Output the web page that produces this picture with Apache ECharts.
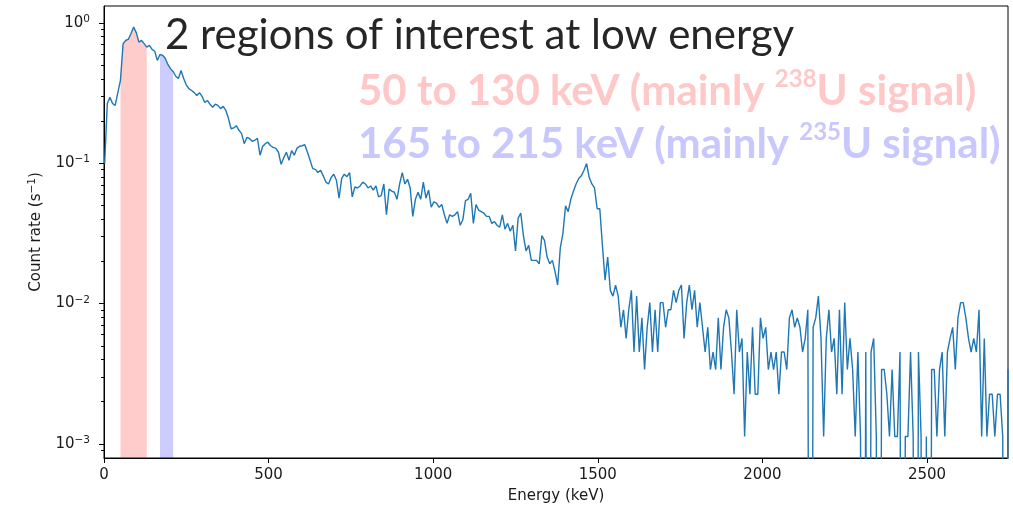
<!DOCTYPE html>
<html>
<head>
<meta charset="utf-8">
<script src="https://cdn.jsdelivr.net/npm/echarts@6/dist/echarts.min.js"></script>
<style>
  html, body { margin: 0; padding: 0; background: #ffffff; }
  #chart { width: 1013px; height: 510px; }
</style>
</head>
<body>
<div id="chart"></div>
<script>
// Spectrum: counts per 8 keV channel, first channel centred at 2 keV
const BIN_START_KEV = 2;
const BIN_WIDTH_KEV = 8;
const LIVE_TIME_S = 885;

const counts = [
  88, 236, 261, 236, 229, 282, 345, 630, 664, 677,
  745, 826, 755, 646, 664, 630, 595, 612, 573, 556,
  479, 527, 520, 495, 448, 418, 399, 369, 356, 406,
  356, 319, 301, 292, 282, 269, 282, 265, 240, 248,
  233, 222, 233, 229, 217, 225, 211, 185, 156, 158,
  164, 152, 144, 122, 135, 133, 127, 129, 133, 101,
  117, 122, 125, 118, 115, 113, 106, 87, 97, 106,
  93, 109, 101, 113, 117, 118, 120, 106, 93, 81,
  80, 76, 79, 72, 65, 63, 70, 74, 67, 50,
  69, 74, 71, 76, 51, 60, 59, 61, 65, 63,
  59, 61, 57, 61, 51, 52, 63, 38, 58, 56,
  55, 49, 63, 76, 63, 68, 59, 37, 49, 55,
  49, 65, 50, 57, 43, 47, 46, 43, 45, 38,
  33, 38, 37, 38, 40, 32, 35, 48, 49, 54,
  33, 45, 41, 40, 39, 37, 37, 33, 34, 32,
  31, 38, 30, 33, 29, 32, 21, 36, 39, 27,
  21, 23, 18, 18, 18, 17, 27, 25, 19, 17,
  18, 15, 12, 22, 28, 44, 40, 49, 56, 63,
  69, 72, 79, 88, 70, 63, 59, 42, 42, 23,
  13, 19, 11, 10, 12, 10, 6, 8, 5, 8,
  11, 4, 10, 4, 7, 3, 6, 9, 4, 8,
  4, 9, 9, 6, 8, 8, 11, 9, 11, 12,
  5, 9, 12, 8, 11, 6, 9, 6, 4, 6,
  3, 4, 3, 7, 3, 6, 8, 7, 4, 2,
  8, 4, 5, 1, 4, 2, 6, 2, 2, 7,
  5, 6, 3, 4, 3, 4, 2, 4, 4, 3,
  7, 8, 6, 7, 6, 4, 5, 8, 0, 6,
  7, 10, 5, 1, 5, 8, 4, 5, 2, 8,
  2, 9, 3, 5, 3, 1, 4, 1, 0, 4,
  0, 4, 5, 1, 0, 3, 3, 2, 1, 3,
  1, 1, 4, 0, 1, 1, 4, 1, 0, 4,
  1, 0, 1, 0, 3, 3, 1, 3, 4, 1,
  4, 5, 6, 3, 7, 9, 9, 7, 5, 4,
  5, 4, 8, 1, 5, 1, 2, 2, 1, 2,
  2, 1, 0, 3
];

// Shaded regions of interest (keV)
const regionNames = ['238U', '235U'];
const regionFrom = [50, 165];
const regionTo = [130, 215];
const regionColors = ['rgba(255, 0, 0, 0.2)', 'rgba(0, 0, 255, 0.2)'];

// Axis ticks
const xTickValues = [0, 500, 1000, 1500, 2000, 2500];
const yMajorTicks = [0.001, 0.01, 0.1, 1];
const yTickExponents = ['\u22123', '\u22122', '\u22121', '0'];
const yMinorTicks = [
  0.0009,
  0.002, 0.003, 0.004, 0.005, 0.006, 0.007, 0.008, 0.009,
  0.02, 0.03, 0.04, 0.05, 0.06, 0.07, 0.08, 0.09,
  0.2, 0.3, 0.4, 0.5, 0.6, 0.7, 0.8, 0.9
];

const X_MAX = 2746;
const Y_MIN = 0.000794;
const Y_MAX = 1.32;
// log axis cannot show empty channels; send them below the visible range
const EMPTY_FLOOR = 1e-9;

const spectrum = counts.map(function (c, k) {
  const e = BIN_START_KEV + k * BIN_WIDTH_KEV;
  const rate = c / LIVE_TIME_S;
  return [e, rate > 0 ? rate : EMPTY_FLOOR];
});

const INK = '#1a1a1a';
const mathRich = {
  b: { fontFamily: 'DejaVu Sans', fontSize: 15, color: INK, lineHeight: 18, verticalAlign: 'middle' },
  s: { fontFamily: 'DejaVu Sans', fontSize: 10.5, color: INK, lineHeight: 10, verticalAlign: 'top' }
};

const bandSeries = regionFrom.map(function (from, i) {
  return {
    name: regionNames[i],
    type: 'line',
    data: spectrum.filter(function (p) { return p[0] >= from && p[0] <= regionTo[i]; }),
    showSymbol: false,
    silent: true,
    lineStyle: { width: 0, opacity: 0 },
    areaStyle: { color: regionColors[i], origin: 'start', opacity: 1 },
    z: 1
  };
});

const chart = echarts.init(document.getElementById('chart'), null, { renderer: 'canvas' });

chart.setOption({
  animation: false,
  backgroundColor: '#ffffff',
  grid: {
    left: 104, right: 5, top: 6, bottom: 52,
    show: true, borderColor: '#000000', borderWidth: 1, backgroundColor: 'transparent'
  },
  xAxis: {
    type: 'value',
    min: 0, max: X_MAX,
    name: 'Energy (keV)',
    nameLocation: 'middle',
    nameGap: 31,
    nameTextStyle: { fontFamily: 'DejaVu Sans', fontSize: 15, color: INK },
    axisLine: { show: true, lineStyle: { color: '#000000', width: 1 } },
    axisTick: { show: true, length: 5, lineStyle: { color: '#000000' }, customValues: xTickValues },
    axisLabel: {
      margin: 10,
      customValues: xTickValues,
      fontFamily: 'DejaVu Sans', fontSize: 15, color: INK,
      formatter: function (v) { return String(v); }
    },
    splitLine: { show: false }
  },
  yAxis: [
    {
      type: 'log', logBase: 10,
      min: Y_MIN, max: Y_MAX,
      name: '{b|Count rate (s}{s|\u22121}{b|)}',
      nameLocation: 'middle',
      nameGap: 59,
      nameRotate: 90,
      nameTextStyle: { fontFamily: 'DejaVu Sans', fontSize: 15, color: INK, rich: mathRich },
      axisLine: { show: true, lineStyle: { color: '#000000', width: 1 } },
      axisTick: { show: true, length: 5, lineStyle: { color: '#000000' }, customValues: yMajorTicks },
      axisLabel: {
        margin: 14,
        customValues: yMajorTicks,
        rich: mathRich,
        formatter: function (v) {
          const p = Math.round(Math.log10(v));
          return '{b|10}{s|' + yTickExponents[p + 3] + '}';
        }
      },
      splitLine: { show: false }
    },
    {
      // minor ticks of the same log scale
      type: 'log', logBase: 10,
      min: Y_MIN, max: Y_MAX,
      position: 'left',
      axisLine: { show: false },
      axisTick: { show: true, length: 3, lineStyle: { color: '#000000' }, customValues: yMinorTicks },
      axisLabel: { show: false },
      splitLine: { show: false }
    }
  ],
  series: bandSeries.concat([
    {
      name: 'spectrum',
      type: 'line',
      data: spectrum,
      showSymbol: false,
      clip: true,
      silent: true,
      lineStyle: { color: '#1f77b4', width: 1.4 },
      z: 3
    }
  ]),
  graphic: [
    {
      type: 'text', left: 165, top: 14, z: 10,
      style: {
        text: '2 regions of interest at low energy',
        font: '42px Lato', fill: '#262626'
      }
    },
    {
      type: 'text', left: 358, top: 67, z: 10,
      style: {
        text: '{t|50 to 130 keV (mainly }{s|238}{t|U signal)}',
        rich: {
          t: { fontFamily: 'Lato', fontWeight: 'bold', fontSize: 42, fill: '#ffc8c8', lineHeight: 48, verticalAlign: 'middle' },
          s: { fontFamily: 'Lato', fontWeight: 'bold', fontSize: 24, fill: '#ffc8c8', lineHeight: 28, verticalAlign: 'top' }
        }
      }
    },
    {
      type: 'text', left: 358, top: 120, z: 10,
      style: {
        text: '{t|165 to 215 keV (mainly }{s|235}{t|U signal)}',
        rich: {
          t: { fontFamily: 'Lato', fontWeight: 'bold', fontSize: 42, fill: '#c8c8ff', lineHeight: 48, verticalAlign: 'middle' },
          s: { fontFamily: 'Lato', fontWeight: 'bold', fontSize: 24, fill: '#c8c8ff', lineHeight: 28, verticalAlign: 'top' }
        }
      }
    }
  ]
});
</script>
</body>
</html>
